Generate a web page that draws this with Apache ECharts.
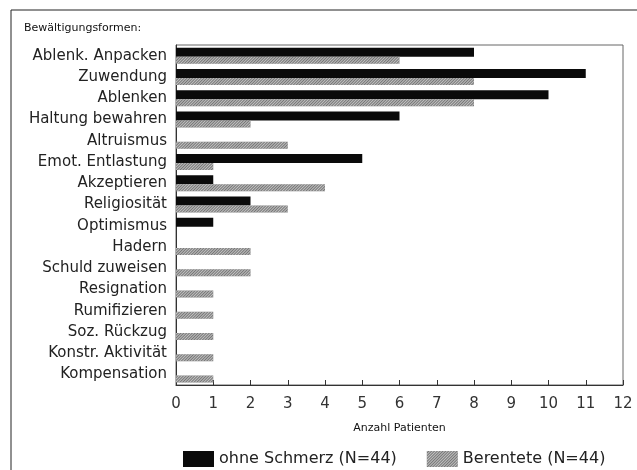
<!doctype html>
<html>
	<head>
		<meta charset="utf-8">
		<title>Bewältigungsformen</title>
		<script type="text/javascript" src="https://cdn.jsdelivr.net/npm/echarts@6/dist/echarts.min.js"></script>
	</head>
	<body style="margin:0;padding:0;background:#fff">
		<div id="tb" style="width:637px;height:470px;"></div>
		<script>
			// Kategorien von oben nach unten
			var kategorien = ['Ablenk. Anpacken', 'Zuwendung', 'Ablenken', 'Haltung bewahren', 'Altruismus',
				'Emot. Entlastung', 'Akzeptieren', 'Religiosität', 'Optimismus', 'Hadern', 'Schuld zuweisen',
				'Resignation', 'Rumifizieren', 'Soz. Rückzug', 'Konstr. Aktivität', 'Kompensation'];
			var ohneSchmerz = [8, 11, 10, 6, 0, 5, 1, 2, 1, 0, 0, 0, 0, 0, 0, 0];
			var berentete = [6, 8, 8, 2, 3, 1, 4, 3, 0, 2, 2, 1, 1, 1, 1, 1];
			var xTicks = [0, 1, 2, 3, 4, 5, 6, 7, 8, 9, 10, 11, 12];

			var schrift = 'DejaVu Sans';
			// graue Schraffur wie im Original
			var schraffur = {
				symbol: 'rect',
				color: 'rgba(255,255,255,0.55)',
				dashArrayX: [1, 0],
				dashArrayY: [1, 1],
				rotation: -Math.PI / 4,
				symbolSize: 1
			};

			var bt = document.getElementById('tb');
			var btchart = echarts.init(bt);

			btchart.setOption({
				animation: false,
				backgroundColor: '#fff',
				textStyle: {fontFamily: schrift},
				title: {
					text: 'Bewältigungsformen:',
					left: 19,
					top: 18,
					textStyle: {fontSize: 11, fontWeight: 'normal', color: '#111', fontFamily: schrift}
				},
				graphic: [{
					type: 'polyline',
					shape: {points: [[11, 470], [11, 10], [637, 10]]},
					style: {stroke: '#222', lineWidth: 1, fill: null}
				}],
				legend: {
					top: 446,
					left: 178,
					icon: 'rect',
					itemWidth: 31,
					itemHeight: 16,
					itemGap: 30,
					textStyle: {fontSize: 16, color: '#222', fontFamily: schrift},
					data: ['ohne Schmerz (N=44)', 'Berentete (N=44)']
				},
				grid: {
					left: 176,
					right: 14,
					top: 45,
					bottom: 85,
					show: true,
					borderColor: '#666',
					borderWidth: 1
				},
				xAxis: {
					type: 'value',
					min: 0,
					max: 12,
					interval: 1,
					name: 'Anzahl Patienten',
					nameLocation: 'middle',
					nameGap: 38,
					nameTextStyle: {fontSize: 11, color: '#111', fontFamily: schrift},
					axisLine: {show: true, lineStyle: {color: '#333'}},
					axisTick: {show: true, inside: true, length: 5, lineStyle: {color: '#333'}},
					splitLine: {show: false},
					axisLabel: {
						fontSize: 15, color: '#333', margin: 12,
						formatter: function(v) { return xTicks.indexOf(v) >= 0 ? String(v) : ''; }
					}
				},
				yAxis: {
					type: 'category',
					inverse: true,
					data: kategorien,
					axisLine: {show: true, lineStyle: {color: '#333'}},
					axisTick: {show: false},
					axisLabel: {fontSize: 15, color: '#222', margin: 9}
				},
				series: [{
					name: 'ohne Schmerz (N=44)',
					type: 'bar',
					barWidth: 9,
					barGap: '0%',
					itemStyle: {color: '#0a0a0a'},
					data: ohneSchmerz
				}, {
					name: 'Berentete (N=44)',
					type: 'bar',
					barWidth: 7,
					barGap: '0%',
					itemStyle: {color: '#757575', decal: schraffur},
					data: berentete
				}]
			});
		</script>
	</body>
</html>
